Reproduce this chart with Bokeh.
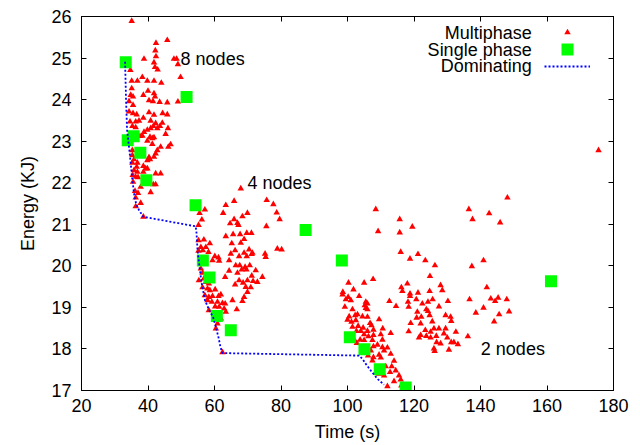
import math
from bokeh.plotting import figure
from bokeh.models import Range1d, FixedTicker, LinearAxis, Label, Legend, LegendItem, Title
from bokeh.core.properties import value
from bokeh.embed import file_html
from bokeh.resources import INLINE

# ---------------- data ----------------
# Multiphase runs, 8-node cluster
t8 = [35.1, 45.8, 42.4, 42.2, 42.4, 38.8, 47.8, 48.6, 41.8, 49.0,
      42.1, 42.9, 34.7, 38.3, 49.8, 36.8, 39.8, 41.8, 44.0, 35.1,
      35.1, 38.6, 40.0, 41.8, 42.1, 40.3, 41.5, 43.5, 45.8, 49.0,
      34.8, 35.5, 34.3, 35.5, 34.3, 35.5, 36.6, 40.3, 44.4, 45.8,
      41.8, 38.6, 34.6, 36.3, 37.3, 40.8, 44.3, 42.3, 35.3, 36.3,
      41.6, 42.8, 40.8, 43.6, 46.0, 38.8, 39.8, 38.3, 40.6, 41.3,
      41.8, 45.3, 37.6, 34.6, 41.3, 39.8, 46.8, 46.1, 43.8, 42.8,
      42.3, 41.8, 40.6, 39.8, 40.3, 35.3, 35.3, 35.8, 35.3, 36.8,
      36.6, 38.6, 39.3, 39.8, 35.8, 36.8, 38.6, 35.4, 36.3, 37.0,
      42.3, 43.8, 35.5, 41.6, 42.3, 37.8, 36.1, 37.0, 40.8, 36.3,
      37.8, 36.3, 38.6]
e8 = [25.89, 25.43, 25.36, 25.18, 25.04, 24.98, 24.98, 24.98, 24.89, 24.85,
      24.78, 24.72, 24.71, 24.54, 24.54, 24.45, 24.45, 24.45, 24.40, 24.45,
      24.27, 24.11, 24.21, 24.15, 24.07, 23.98, 23.96, 23.94, 23.93, 23.95,
      24.11, 24.07, 23.96, 23.87, 23.71, 23.67, 23.64, 23.69, 23.67, 23.64,
      23.63, 23.56, 23.47, 23.47, 23.49, 23.49, 23.44, 23.43, 23.36, 23.33,
      23.36, 23.31, 23.31, 23.36, 23.31, 23.22, 23.27, 23.13, 23.10, 23.07,
      23.09, 23.17, 23.12, 23.14, 22.93, 23.01, 22.92, 22.86, 22.86, 22.78,
      22.70, 22.62, 22.56, 22.54, 22.61, 22.78, 22.66, 22.56, 22.48, 22.48,
      22.38, 22.40, 22.34, 22.34, 22.30, 22.26, 22.26, 22.18, 22.14, 22.13,
      22.22, 22.22, 22.02, 21.96, 21.96, 21.90, 21.80, 21.75, 21.77, 21.64,
      21.51, 21.43, 21.18]

# Multiphase runs, 4-node cluster
t4 = [67.9, 75.7, 77.7, 78.7, 79.6, 78.9, 80.2, 63.4, 65.9, 57.1,
      55.5, 62.6, 68.4, 69.9, 56.2, 65.9, 64.7, 66.9, 67.2, 75.6,
      55.2, 63.4, 65.6, 67.7, 69.7, 71.1, 68.9, 56.8, 55.2, 65.2,
      67.9, 58.6, 55.9, 57.4, 70.4, 66.2, 55.2, 56.5, 58.2, 68.9,
      71.4, 64.9, 75.2, 60.1, 61.2, 67.4, 69.7, 71.2, 59.4, 61.4,
      64.4, 75.4, 66.4, 67.6, 69.2, 70.6, 68.2, 69.6, 72.4, 64.4,
      66.9, 74.4, 63.2, 71.2, 55.9, 56.4, 55.3, 56.8, 57.4, 58.3,
      67.4, 69.9, 72.9, 68.6, 71.6, 66.2, 69.4, 70.9, 56.4, 57.9,
      58.6, 60.2, 69.9, 57.1, 58.3, 59.4, 61.2, 61.9, 68.9, 57.9,
      59.2, 60.9, 62.4, 63.2, 65.4, 68.4, 60.2, 61.4, 58.3, 62.9,
      63.4, 66.7, 60.2, 61.9, 60.9, 60.4, 62.4]
e4 = [21.86, 21.58, 21.48, 21.28, 21.12, 20.41, 20.39, 21.46, 21.56, 21.35,
      21.27, 21.27, 21.19, 21.27, 21.11, 21.12, 21.02, 21.03, 20.98, 20.95,
      20.98, 20.71, 20.76, 20.76, 20.79, 20.79, 20.64, 20.63, 20.61, 20.54,
      20.55, 20.54, 20.45, 20.45, 20.39, 20.37, 20.36, 20.37, 20.33, 20.31,
      20.31, 20.29, 20.29, 20.23, 20.20, 20.23, 20.23, 20.28, 20.13, 20.12,
      20.13, 20.21, 20.01, 20.01, 19.97, 20.01, 19.91, 19.91, 19.89, 19.88,
      19.83, 19.73, 19.73, 19.76, 19.93, 19.83, 19.65, 19.69, 19.61, 19.57,
      19.65, 19.65, 19.61, 19.59, 19.63, 19.55, 19.49, 19.48, 19.48, 19.45,
      19.41, 19.43, 19.37, 19.29, 19.25, 19.27, 19.27, 19.31, 19.25, 19.17,
      19.13, 19.13, 19.10, 19.09, 19.17, 19.15, 19.02, 19.01, 18.93, 18.97,
      18.89, 18.95, 18.85, 18.73, 18.61, 18.49, 17.92]

# Multiphase runs, 2-node cluster (and one outlier)
t2 = [148.1, 136.5, 142.6, 137.6, 145.9, 108.5, 115.7, 119.5, 109.2, 115.7,
      116.0, 121.2, 118.8, 123.4, 140.9, 141.9, 143.1, 145.3, 147.9, 144.4,
      140.9, 145.6, 148.6, 144.1, 126.3, 137.4, 124.8, 107.7, 105.0, 100.3,
      118.0, 116.2, 116.5, 128.0, 128.5, 101.8, 98.6, 98.5, 118.8, 121.2,
      124.7, 118.8, 100.2, 103.5, 99.5, 101.0, 105.5, 112.6, 118.2, 120.7,
      124.2, 125.6, 130.2, 136.7, 114.6, 105.2, 106.0, 122.5, 127.5, 99.2,
      101.5, 105.5, 106.0, 118.4, 123.7, 124.2, 138.6, 121.0, 102.3, 100.5,
      103.0, 104.5, 106.0, 109.5, 120.8, 122.2, 124.7, 125.5, 129.5, 131.0,
      131.2, 100.0, 101.2, 102.5, 106.8, 107.2, 119.0, 122.0, 103.2, 101.5,
      104.7, 107.8, 110.6, 126.0, 127.5, 129.5, 132.6, 123.4, 118.4, 113.0,
      125.0, 102.7, 104.0, 106.0, 105.0, 106.3, 122.0, 123.7, 125.0, 126.7,
      129.0, 130.0, 131.2, 132.0, 133.2, 136.2, 121.5, 107.8, 110.0, 110.5,
      107.5, 103.8, 105.0, 102.8, 102.0, 126.8, 128.0, 126.0, 126.2, 130.5,
      107.8, 109.0, 110.5, 112.0, 113.0, 111.0, 107.0, 106.2, 107.8, 109.5,
      110.0, 107.5, 114.0, 113.3, 111.5, 114.5, 112.8, 115.5, 111.0, 109.5,
      116.0, 114.0, 112.0, 116.2, 175.5]
e2 = [21.64, 21.36, 21.26, 21.12, 21.04, 21.36, 21.12, 20.94, 20.83, 20.80,
      20.33, 20.28, 20.17, 20.13, 20.13, 19.48, 19.21, 19.23, 19.19, 19.15,
      18.99, 18.83, 18.90, 18.66, 20.01, 19.99, 19.75, 19.68, 19.59, 19.59,
      19.57, 19.48, 19.39, 19.53, 19.41, 19.43, 19.37, 19.31, 19.33, 19.35,
      19.39, 19.27, 19.25, 19.27, 19.19, 19.17, 19.13, 19.15, 19.13, 19.19,
      19.13, 19.19, 19.15, 19.19, 19.03, 19.05, 19.09, 19.09, 19.02, 19.01,
      18.95, 18.98, 18.95, 19.01, 18.95, 18.91, 18.87, 18.89, 18.81, 18.78,
      18.83, 18.78, 18.77, 18.71, 18.75, 18.77, 18.81, 18.66, 18.81, 18.77,
      18.67, 18.70, 18.65, 18.69, 18.62, 18.57, 18.62, 18.61, 18.55, 18.53,
      18.51, 18.46, 18.49, 18.49, 18.49, 18.49, 18.41, 18.45, 18.42, 18.38,
      18.41, 18.43, 18.43, 18.43, 18.35, 18.30, 18.33, 18.31, 18.27, 18.31,
      18.37, 18.27, 18.16, 18.16, 18.11, 18.30, 18.27, 18.33, 18.35, 18.22,
      18.21, 18.22, 18.21, 18.14, 18.22, 18.16, 18.13, 18.01, 17.95, 17.98,
      18.06, 18.10, 18.04, 18.03, 17.88, 17.96, 17.96, 17.84, 17.80, 17.86,
      17.79, 17.72, 17.71, 17.58, 17.58, 17.48, 17.44, 17.36, 17.36, 17.40,
      17.26, 17.22, 17.10, 17.12, 22.78]

# Single phase runs
single_time = [33.3, 51.6, 33.9, 35.7, 37.7, 39.5, 54.3, 56.5, 58.5, 60.7,
               64.9, 87.4, 98.3, 100.7, 105.1, 109.7, 117.5, 161.2]
single_energy = [24.90, 24.06, 23.02, 23.12, 22.72, 22.06, 21.46, 20.13, 19.72, 18.79,
                 18.45, 20.86, 20.13, 18.28, 17.99, 17.51, 17.07, 19.63]

# Dominating (Pareto) front
dom_time = [33.1, 33.4, 33.7, 34.5, 35.3, 35.8, 36.4, 37.3, 38.6, 54.35,
            54.6, 54.9, 55.5, 56.15, 57.1, 58.35, 59.55, 60.4, 61.2, 61.8,
            62.4, 103.5, 104.5, 105.5, 107.0, 109.0, 111.0]
dom_energy = [24.91, 23.99, 23.27, 22.71, 22.06, 21.74, 21.50, 21.34, 21.18, 20.95,
              20.78, 20.37, 19.97, 19.58, 19.18, 18.94, 18.77, 18.53, 18.28, 18.04,
              17.90, 17.84, 17.76, 17.64, 17.48, 17.28, 17.14]

x_ticks = [20, 40, 60, 80, 100, 120, 140, 160, 180]
y_ticks = [17, 18, 19, 20, 21, 22, 23, 24, 25, 26]

cluster_names = ["8 nodes", "4 nodes", "2 nodes"]
cluster_name_time = [49.8, 69.9, 140.1]
cluster_name_energy = [24.98, 22.0, 17.99]

series_names = ["Multiphase", "Single phase", "Dominating"]
x_title = "Time (s)"
y_title = "Energy (KJ)"

# ---------------- figure ----------------
FONT = "Liberation Sans"
FS = "18px"

p = figure(width=640, height=445, output_backend="svg", toolbar_location=None,
           x_range=Range1d(20, 180), y_range=Range1d(17, 26),
           min_border_left=81, min_border_right=27, min_border_top=16, min_border_bottom=55,
           background_fill_color="white", border_fill_color="white")
p.grid.visible = False
p.outline_line_color = "black"
p.outline_line_width = 1


def style_axis(ax, ticks, show_labels, standoff):
    ax.ticker = FixedTicker(ticks=ticks)
    ax.axis_line_color = "black"
    ax.axis_line_width = 1
    ax.major_tick_line_color = "black"
    ax.major_tick_in = 5
    ax.major_tick_out = 0
    ax.minor_tick_in = 0
    ax.minor_tick_out = 0
    ax.minor_tick_line_color = None
    ax.major_label_standoff = standoff
    if show_labels:
        ax.major_label_text_font = FONT
        ax.major_label_text_font_size = FS
        ax.major_label_text_color = "black"
    else:
        ax.major_label_text_color = None
        ax.major_label_text_font_size = "1px"


style_axis(p.xaxis[0], x_ticks, True, 8)
style_axis(p.yaxis[0], y_ticks, True, 10)
p.xaxis[0].axis_label = x_title
p.xaxis[0].axis_label_text_font = FONT
p.xaxis[0].axis_label_text_font_size = FS
p.xaxis[0].axis_label_text_font_style = "normal"
p.xaxis[0].axis_label_text_color = "black"
p.xaxis[0].axis_label_standoff = 7

top_axis = LinearAxis()
style_axis(top_axis, x_ticks, False, 0)
p.add_layout(top_axis, "above")
right_axis = LinearAxis()
style_axis(right_axis, y_ticks, False, 0)
p.add_layout(right_axis, "right")

# y title as a side title, shifted down like the reference
p.add_layout(Title(text=y_title, align="center", offset=-32, standoff=22,
                   text_font=FONT, text_font_size=FS, text_font_style="normal",
                   text_color="black"), "left")

multi_time = t8 + t4 + t2
multi_energy = e8 + e4 + e2

r_multi = p.scatter(multi_time, multi_energy, marker="triangle", size=6.5,
                    fill_color="#ff0000", line_color=None)
r_single = p.scatter(single_time, single_energy, marker="square", size=12,
                     fill_color="#00ff00", line_color=None)
r_dom = p.line(dom_time, dom_energy, line_color="#0000ff", line_width=1.8,
               line_dash="2 2")

# cluster annotations
for name, tx, ey in zip(cluster_names, cluster_name_time, cluster_name_energy):
    p.add_layout(Label(x=tx, y=ey, text=name, text_font=FONT, text_font_size=FS,
                       text_color="black", text_align="left", text_baseline="middle"))

# key: text right-aligned, sample to its right (gnuplot style)
key_text_y = [358, 340.7, 324.3]
for name, ky in zip(series_names, key_text_y):
    p.add_layout(Label(x=450.2, y=ky, x_units="screen", y_units="screen", text=name,
                       text_font=FONT, text_font_size=FS, text_color="black",
                       text_align="right", text_baseline="middle"))


def key_sample(renderer, w, h, cx, cy):
    lg = Legend(items=[LegendItem(label=value(" "), renderers=[renderer])],
                location=(cx - w / 2, cy - h / 2), padding=0, margin=0, spacing=0,
                glyph_width=w, glyph_height=h, label_standoff=0, label_width=0,
                label_height=0, label_text_font_size="1px",
                border_line_color=None, background_fill_alpha=0)
    p.add_layout(lg)


key_sample(r_multi, 16, 16, 486.2, 358)
key_sample(r_single, 30, 30, 486.0, 340.7)
key_sample(r_dom, 46, 10, 485.5, 324.3)

open("out.html", "w").write(file_html(p, INLINE))
